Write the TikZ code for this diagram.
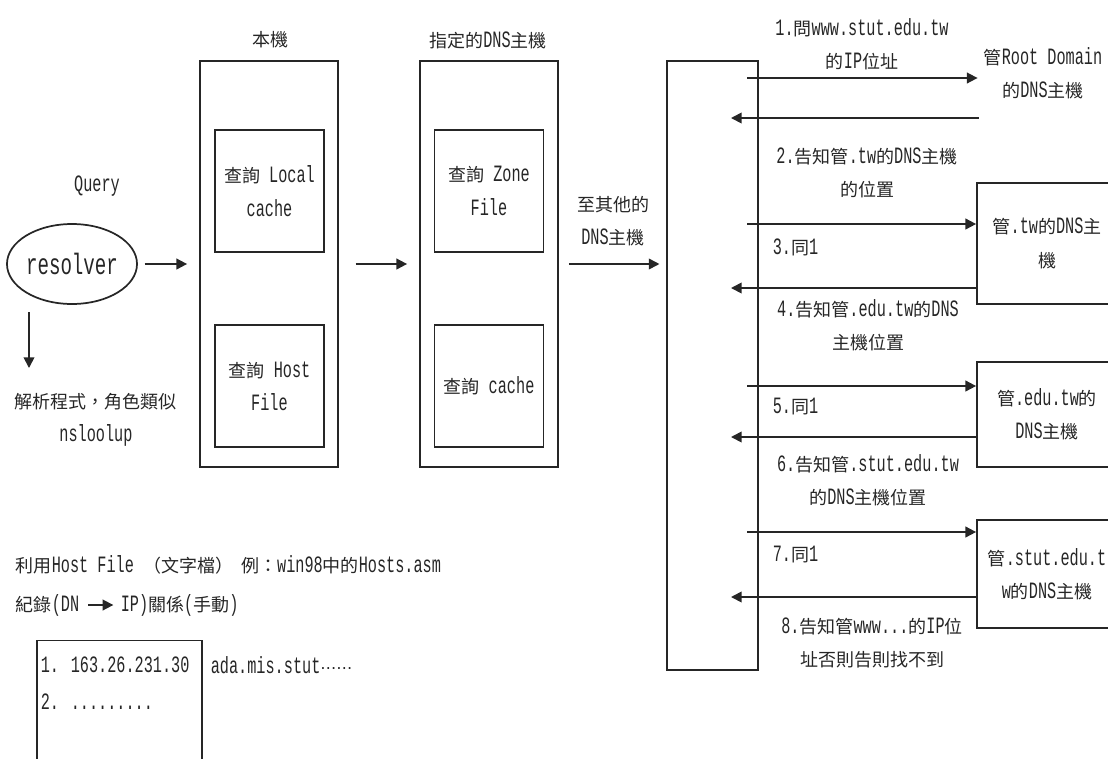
\documentclass[tikz,border=0pt]{standalone}
\usepackage{fontspec}
\setmainfont{Liberation Mono}[Scale=1.3, FakeStretch=0.65]
\newfontfamily\cjk{Noto Sans CJK TC}
\newfontfamily\sym{DejaVu Sans}
\newcommand\zh[1]{{\cjk #1}}
\usetikzlibrary{arrows.meta,shapes.geometric}

\begin{document}
\begin{tikzpicture}[x=0.75pt, y=-0.75pt, >={Triangle[length=8pt,width=8pt]},
  line width=1.3pt, draw=black!85,
  every node/.style={font=\fontsize{13.5pt}{25pt}\selectfont, inner sep=0pt, text=black!85},
  machine/.style={draw, minimum width=103.5pt, minimum height=304.5pt},
  lookup/.style={draw, align=center, minimum width=81.75pt, minimum height=91.5pt},
  server/.style={draw, align=center, minimum width=105pt},
  msg/.style={align=center}]
  \useasboundingbox (0,0) rectangle (1108,758);
  \clip (0,0) rectangle (1108,758);

  % client side
  \node (query) at (97,186) {Query};
  \node[ellipse, draw, minimum width=83pt, minimum height=60pt, font=\fontsize{17pt}{20pt}\selectfont] (res) at (72,264) {resolver};
  \node[align=center] (note) at (96,420) {\zh{解析程式，角色類似}\\nsloolup};
  \coordinate (d1) at (29,312);
  \coordinate (d2) at (29,368);
  \draw[->] (d1) -- (d2);

  % local machine
  \node (locallbl) at (270,40) {\zh{本機}};
  \node[machine] (local) at (269,264) {};
  \node[lookup] (lcache) at (269.5,191) {\zh{查詢} Local\\cache};
  \node[lookup] (hostfile) at (269.5,386) {\zh{查詢} Host\\File};

  % assigned dns server
  \node (dnslbl) at (488,40) {\zh{指定的}DNS\zh{主機}};
  \node[machine] (dns) at (489,264) {};
  \node[lookup] (zone) at (489,191) {\zh{查詢} Zone\\File};
  \node[lookup] (dcache) at (489,386) {\zh{查詢} cache};

  \node[align=center] (other) at (613,221) {\zh{至其他的}\\DNS\zh{主機}};
  \node[draw, minimum width=68.25pt, minimum height=456.75pt] (iter) at (712.5,365.5) {};

  \draw[->, shorten <=5pt, shorten >=9pt] (res) -- (local);
  \draw[->, shorten <=12.5pt, shorten >=9pt] (local) -- (dns);
  \draw[->, shorten <=7.5pt, shorten >=5pt] (dns.east) -- (dns.east -| iter.west);

  % other servers
  \node[msg] (root) at (1043,73) {\zh{管}Root Domain\\\zh{的}DNS\zh{主機}};
  \node[server, minimum height=90.75pt] (tw) at (1047,243.5) {\zh{管}.tw\zh{的}DNS\zh{主}\\\zh{機}};
  \node[server, minimum height=78.75pt] (edu) at (1047,414.5) {\zh{管}.edu.tw\zh{的}\\DNS\zh{主機}};
  \node[server, minimum height=81pt] (stut) at (1047,574) {\zh{管}.stut.edu.t\\w\zh{的}DNS\zh{主機}};

  % messages
  \node[msg] (m1) at (862,44) {1.\zh{問}www.stut.edu.tw\\\zh{的}IP\zh{位址}};
  \node[msg] (m2) at (867,173) {2.\zh{告知管}.tw\zh{的}DNS\zh{主機}\\\zh{的位置}};
  \node[anchor=west] (m3) at (772,247) {3.\zh{同}1};
  \node[msg] (m4) at (868,325) {4.\zh{告知管}.edu.tw\zh{的}DNS\\\zh{主機位置}};
  \node[anchor=west] (m5) at (772,407) {5.\zh{同}1};
  \node[msg] (m6) at (868,480) {6.\zh{告知管}.stut.edu.tw\\\zh{的}DNS\zh{主機位置}};
  \node[anchor=west] (m7) at (772,555) {7.\zh{同}1};
  \node[msg] (m8) at (872,643) {8.\zh{告知管}www...\zh{的}IP\zh{位}\\\zh{址否則告則找不到}};

  \coordinate (s1) at (747,78);
  \coordinate (r2) at (731,118);
  \coordinate (s3) at (747,224);
  \coordinate (r4) at (731,288);
  \coordinate (s5) at (747,386);
  \coordinate (r6) at (731,437);
  \coordinate (s7) at (747,532);
  \coordinate (r8) at (731,597);
  \draw[->, shorten >=4pt] (s1) -- (s1 -| root.west);
  \draw[->] ([xshift=-3pt]r2 -| root.west) -- (r2);
  \draw[->] (s3) -- (s3 -| tw.west);
  \draw[->] (r4 -| tw.west) -- (r4);
  \draw[->] (s5) -- (s5 -| edu.west);
  \draw[->] (r6 -| edu.west) -- (r6);
  \draw[->] (s7) -- (s7 -| stut.west);
  \draw[->] (r8 -| stut.west) -- (r8);

  % host file
  \node[anchor=west] (usehost) at (15,565) {\zh{利用}Host File \zh{（文字檔）}\hspace{6pt}\zh{例：}win98\zh{中的}Hosts.asm};
  \node[anchor=west] (rec1) at (15,605) {\zh{紀錄}(DN};
  \node[anchor=west] (rec2) at (120,605) {IP)\zh{關係}(\zh{手動})};
  \draw[->, shorten <=6pt, shorten >=5pt] (rec1) -- (rec2);
  \node[draw, minimum width=123.75pt, minimum height=119.25pt] (hosts) at (119.5,720) {};
  \node[anchor=west] (e1) at (40,665) {1.\hspace{0.5em}163.26.231.30};
  \node[anchor=west] (e2) at (40,702) {2.\hspace{0.5em}.........};
  \node[anchor=west] (ada) at (210,665) {ada.mis.stut{\sym\fontsize{12pt}{12pt}\selectfont ⋯⋯}};
\end{tikzpicture}
\end{document}
